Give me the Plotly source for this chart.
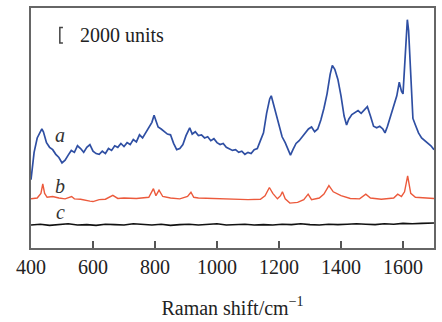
import plotly.graph_objects as go

# Curve a (blue)
wn_a = [400,405,410,420,430,435,440,450,460,470,480,490,500,510,520,530,540,550,560,570,580,590,600,610,620,630,640,650,660,670,680,690,700,710,720,730,740,750,760,770,780,790,797,805,810,820,830,840,850,860,870,880,890,900,912,920,930,940,950,960,970,980,990,1000,1010,1020,1030,1040,1050,1060,1070,1080,1090,1100,1110,1120,1130,1140,1150,1160,1170,1175,1180,1190,1200,1210,1220,1230,1237,1245,1255,1265,1275,1285,1295,1305,1315,1325,1335,1345,1355,1365,1372,1380,1390,1400,1410,1418,1425,1435,1445,1455,1465,1475,1485,1495,1505,1515,1525,1535,1542,1550,1560,1570,1580,1588,1595,1600,1605,1610,1614,1618,1625,1632,1640,1650,1660,1670,1680,1690,1700]
int_a = [8750,10400,12250,14100,15000,15250,14900,13500,12900,12600,12000,11600,10900,11250,11900,12500,12250,13100,12750,12250,12900,13250,12400,12100,12000,12400,12100,12750,12500,13100,12900,13400,13000,13500,13250,13900,13600,14500,14100,14750,15400,16100,17000,15900,15500,15250,14900,14600,14500,13400,12600,12750,13250,14400,15400,14600,14900,14400,14500,14100,14250,13750,14000,13500,13250,13400,12900,12750,12500,12600,12250,12400,12000,12250,12100,12600,12750,13750,14750,17250,19100,19500,18750,17000,15600,14250,13500,12400,11900,12600,13400,13750,14250,14900,15250,15500,14900,15250,16400,17900,19750,22250,23400,22900,21600,19500,16900,15750,16500,17100,17400,17600,17250,17750,18100,16900,15600,15400,15600,15250,14750,15600,16900,18400,19500,21250,20100,19750,22900,27250,29250,27900,21600,16600,15750,14750,14100,13750,13400,13100,12600]

# Curve b (orange)
wn_b = [400,420,432,438,444,452,470,490,510,531,540,560,590,600,620,640,664,680,700,740,780,795,803,813,825,850,880,905,916,925,940,1000,1050,1100,1140,1155,1169,1180,1195,1205,1211,1220,1235,1260,1280,1294,1305,1330,1345,1361,1375,1400,1430,1460,1480,1495,1530,1570,1583,1595,1605,1615,1625,1640,1700]
int_b = [6300,6400,7000,8200,7000,6500,6600,6400,6300,6600,6300,6250,6000,5950,6200,6250,6750,6350,6400,6350,6500,7600,6700,7400,6600,6400,6300,6600,7150,6500,6400,6300,6250,6200,6250,6700,7750,7000,6300,6700,7200,6300,5750,5850,6200,6900,6200,6400,6900,8000,7200,6700,6350,6300,6900,6400,6250,6400,6900,6600,7200,9250,7000,6500,6350]

# Curve c (black)
wn_c = [400,430,460,490,520,550,580,610,640,670,700,730,760,790,820,850,880,910,940,970,1000,1030,1060,1090,1120,1150,1180,1210,1240,1270,1300,1330,1360,1390,1420,1450,1480,1510,1540,1570,1600,1630,1660,1700]
int_c = [2950,3050,2900,3000,3100,2950,3000,2900,3050,3000,2950,3100,3000,2950,3050,2900,3000,3050,2950,3000,3100,2950,3000,3050,2950,3000,2950,3050,3000,3100,3000,2950,3050,3000,3050,3100,3050,3000,3100,3050,3150,3100,3150,3200]

x_ticks = [400, 600, 800, 1000, 1200, 1400, 1600]
scale_units = 2000
scale_base = 26250

serif = "Liberation Serif, Times New Roman, serif"

fig = go.Figure()
fig.add_trace(go.Scatter(x=wn_a, y=int_a, mode="lines", line=dict(color="#2f4fa3", width=1.7)))
fig.add_trace(go.Scatter(x=wn_b, y=int_b, mode="lines", line=dict(color="#ec5a3c", width=1.4)))
fig.add_trace(go.Scatter(x=wn_c, y=int_c, mode="lines", line=dict(color="#111111", width=1.6)))

# scale bar bracket
bx0, bx1 = 493, 503
fig.add_shape(type="path",
              path=f"M {bx1},{scale_base} L {bx0},{scale_base} L {bx0},{scale_base+scale_units} L {bx1},{scale_base+scale_units}",
              line=dict(color="#444", width=1.5), xref="x", yref="y")
fig.add_annotation(x=551, y=scale_base + scale_units / 2, text="2000 units", showarrow=False,
                   xanchor="left", yanchor="middle", font=dict(family=serif, size=20, color="#222"))

for lab, lx, ly in [("a", 493, 14500), ("b", 495, 8000), ("c", 494, 4600)]:
    fig.add_annotation(x=lx, y=ly, text=f"<i>{lab}</i>", showarrow=False,
                       font=dict(family=serif, size=20, color="#333"))

fig.update_layout(
    width=442, height=322,
    margin=dict(l=31, r=6, t=7, b=69),
    paper_bgcolor="white", plot_bgcolor="white",
    showlegend=False,
    xaxis=dict(range=[400, 1700], tickvals=x_ticks, ticks="inside", ticklen=7, tickwidth=1.5,
               tickcolor="#555", showline=True, linecolor="#666", linewidth=1.5, mirror=True,
               showgrid=False, zeroline=False,
               tickfont=dict(family=serif, size=20, color="#222"),
               title=dict(text="Raman shift/cm<sup>−1</sup>", font=dict(family=serif, size=20, color="#222"),
                          standoff=24)),
    yaxis=dict(range=[0, 30750], showticklabels=False, ticks="", showline=True, linecolor="#666",
               linewidth=1.5, mirror=True, showgrid=False, zeroline=False),
)

fig.write_html("out.html")
